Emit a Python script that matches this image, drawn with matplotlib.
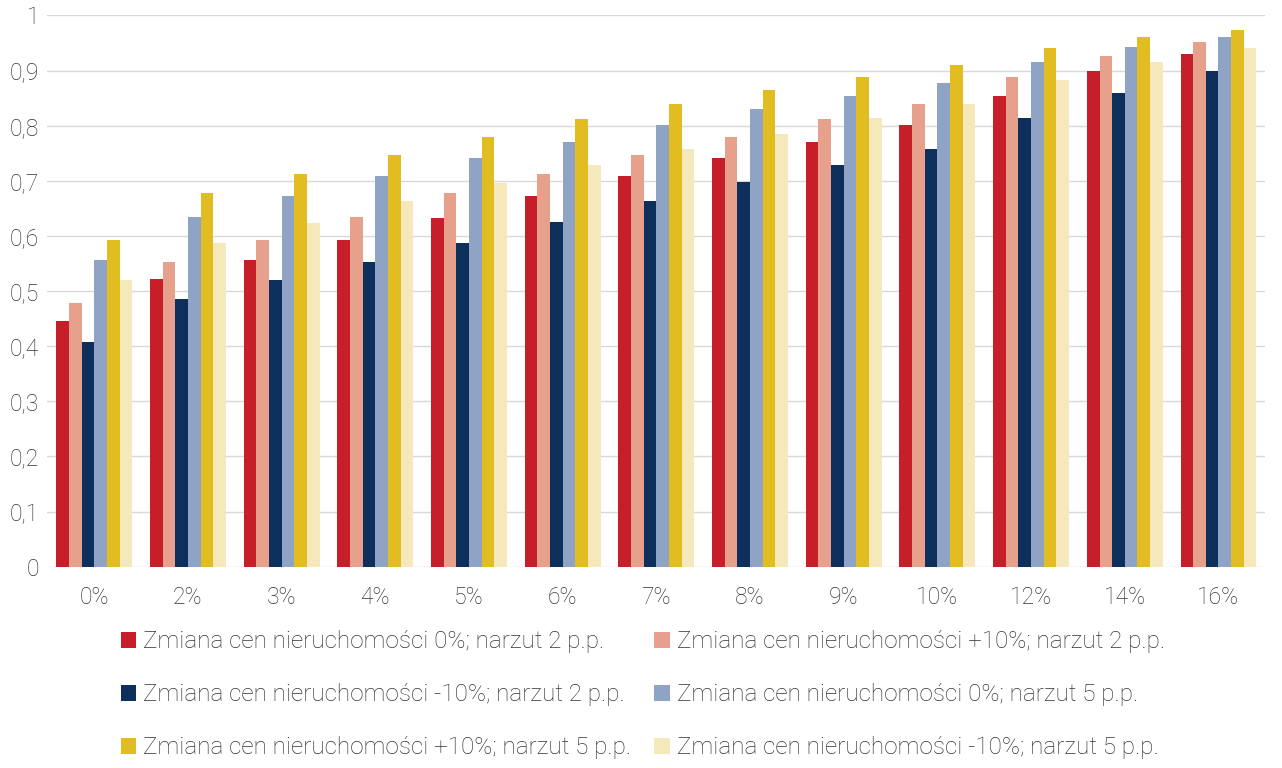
import numpy as np
import matplotlib.pyplot as plt
from matplotlib.patches import Patch

plt.rcParams['font.family'] = ['Roboto', 'DejaVu Sans']
plt.rcParams['font.weight'] = 'light'

categories = ["0%", "2%", "3%", "4%", "5%", "6%", "7%", "8%", "9%", "10%", "12%", "14%", "16%"]

labels = [
    "Zmiana cen nieruchomości 0%; narzut 2 p.p.",
    "Zmiana cen nieruchomości +10%; narzut 2 p.p.",
    "Zmiana cen nieruchomości -10%; narzut 2 p.p.",
    "Zmiana cen nieruchomości 0%; narzut 5 p.p.",
    "Zmiana cen nieruchomości +10%; narzut 5 p.p.",
    "Zmiana cen nieruchomości -10%; narzut 5 p.p.",
]

s_0_2 = [0.446, 0.521, 0.556, 0.592, 0.633, 0.672, 0.709, 0.741, 0.771, 0.802, 0.854, 0.899, 0.930]
s_p10_2 = [0.478, 0.553, 0.592, 0.635, 0.677, 0.713, 0.746, 0.780, 0.812, 0.840, 0.889, 0.926, 0.952]
s_m10_2 = [0.407, 0.485, 0.520, 0.552, 0.587, 0.626, 0.664, 0.698, 0.729, 0.757, 0.813, 0.860, 0.899]
s_0_5 = [0.556, 0.634, 0.673, 0.709, 0.741, 0.771, 0.802, 0.830, 0.854, 0.878, 0.915, 0.943, 0.960]
s_p10_5 = [0.592, 0.677, 0.713, 0.747, 0.780, 0.812, 0.840, 0.865, 0.889, 0.910, 0.940, 0.961, 0.974]
s_m10_5 = [0.520, 0.588, 0.624, 0.664, 0.696, 0.729, 0.757, 0.785, 0.814, 0.839, 0.882, 0.915, 0.940]

series = [s_0_2, s_p10_2, s_m10_2, s_0_5, s_p10_5, s_m10_5]
colors = ["#C61F2A", "#E6A08B", "#0D2F5C", "#8FA3C4", "#E2BD22", "#F5E8BA"]

fig = plt.figure(figsize=(12.82, 7.68), dpi=100)
ax = fig.add_axes([0.037, 0.262, 0.950, 0.718])

x = np.arange(len(categories))
w = 0.135
for i, (vals, c) in enumerate(zip(series, colors)):
    ax.bar(x + (i - 2.5) * w, vals, width=w, color=c, zorder=3)

ax.set_xlim(-0.5, len(categories) - 0.5)
ax.set_ylim(0, 1)
ax.set_yticks(np.arange(0, 1.01, 0.1))
ax.set_yticklabels(["0"] + [("%.1f" % v).replace(".", ",") for v in np.arange(0.1, 0.95, 0.1)] + ["1"])
ax.set_xticks(x)
ax.set_xticklabels(categories)
ax.grid(axis='y', color='#d9d9d9', linewidth=1, zorder=0)
for sp in ax.spines.values():
    sp.set_visible(False)
ax.tick_params(length=0, labelsize=16.5, colors='#333333')
ax.tick_params(axis='x', pad=14)
ax.tick_params(axis='y', pad=6)

# legend fills column-wise, so order handles for two columns
handles = [Patch(facecolor=c) for c in colors]
order = [0, 2, 4, 1, 3, 5]
fig.legend([handles[i] for i in order], [labels[i] for i in order],
           ncol=2, loc='upper left', bbox_to_anchor=(0.077, 0.208),
           frameon=False, fontsize=17.5, labelcolor='#333333',
           handlelength=0.63, handleheight=0.63, handletextpad=0.3,
           columnspacing=0.95, labelspacing=1.24)

fig.savefig("out.png", dpi=100)
